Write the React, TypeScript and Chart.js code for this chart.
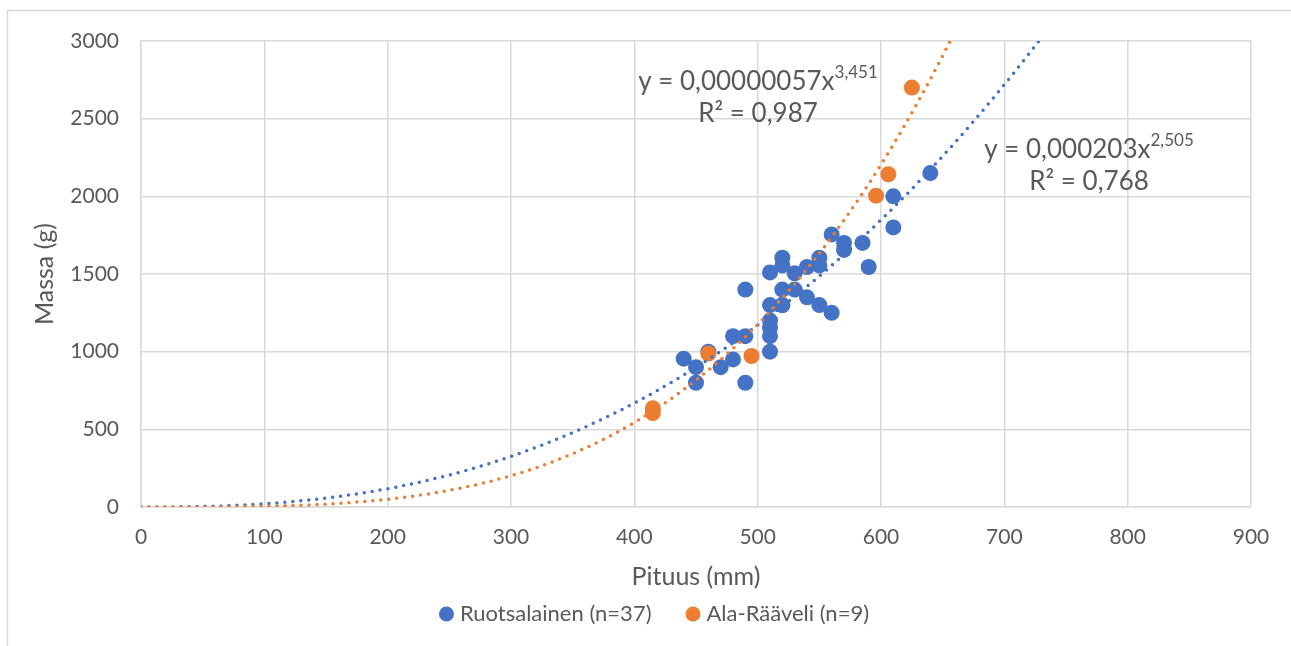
import React, { useEffect, useRef } from "react";
import { Chart, registerables } from "chart.js";
Chart.register(...registerables);

// Ruotsalainen (n=37)
const ruotsX = [440, 450, 450, 460, 470, 480, 480, 490, 490, 490, 510, 510, 510, 510, 510, 510, 520, 520, 520, 520, 530, 530, 540, 540, 550, 550, 550, 560, 560, 570, 570, 585, 590, 610, 610, 640, 520];
const ruotsY = [955, 900, 800, 1000, 900, 1100, 950, 1400, 1100, 800, 1510, 1300, 1200, 1155, 1100, 1000, 1605, 1555, 1400, 1300, 1505, 1400, 1545, 1350, 1605, 1555, 1300, 1755, 1250, 1700, 1655, 1700, 1545, 2000, 1800, 2150, 1300];
// Ala-Rääveli (n=9)
const alaX = [415, 415, 460, 495, 596, 606, 625];
const alaY = [635, 605, 988, 972, 2004, 2142, 2700];

// Trendline (power) parameters as displayed
const ruotsA = 0.000203, ruotsB = 2.505;
const alaA = 0.00000057, alaB = 3.451;
const trendXs = Array.from({ length: 151 }, (_, i) => i * 5);

const xTicks = [0, 100, 200, 300, 400, 500, 600, 700, 800, 900];
const yTicks = [0, 500, 1000, 1500, 2000, 2500, 3000];
const seriesNames = ["Ruotsalainen (n=37)", "Ala-Rääveli (n=9)"];

const BLUE = "#4472C4";
const ORANGE = "#ED7D31";
const TEXT = "#595959";
const GRID = "#D9D9D9";
const FONT = "Lato";

const labelsPlugin = {
  id: "extras",
  beforeDraw(chart: any) {
    const ctx = chart.ctx;
    ctx.save();
    ctx.fillStyle = "#fff";
    ctx.fillRect(0, 0, chart.width, chart.height);
    ctx.strokeStyle = GRID;
    ctx.lineWidth = 1.5;
    ctx.strokeRect(7.5, 10.5, chart.width + 20, chart.height + 20);
    ctx.restore();
  },
  afterDraw(chart: any) {
    const ctx = chart.ctx;
    const drawEq = (cx: number, cy: number, a: string, b: string, r2: string) => {
      ctx.save();
      ctx.fillStyle = TEXT;
      ctx.textBaseline = "alphabetic";
      ctx.font = `26px ${FONT}`;
      const w1 = ctx.measureText(a).width;
      ctx.font = `17px ${FONT}`;
      const w2 = ctx.measureText(b).width;
      const x0 = cx - (w1 + w2) / 2;
      ctx.font = `26px ${FONT}`;
      ctx.fillText(a, x0, cy);
      ctx.font = `17px ${FONT}`;
      ctx.fillText(b, x0 + w1, cy - 12);
      ctx.font = `26px ${FONT}`;
      ctx.textAlign = "center";
      ctx.fillText(r2, cx, cy + 32);
      ctx.restore();
    };
    drawEq(758, 90, "y = 0,00000057x", "3,451", "R² = 0,987");
    drawEq(1089, 158, "y = 0,000203x", "2,505", "R² = 0,768");

    // legend
    ctx.save();
    ctx.font = `22px ${FONT}`;
    ctx.textBaseline = "middle";
    const colors = [BLUE, ORANGE];
    const r = 7.5, gapText = 6, gapItem = 34;
    const widths = seriesNames.map((n) => ctx.measureText(n).width);
    const total = widths.reduce((s, w) => s + 2 * r + gapText + w, 0) + gapItem;
    let x = 654 - total / 2;
    const y = 614;
    seriesNames.forEach((n, i) => {
      ctx.fillStyle = colors[i];
      ctx.beginPath();
      ctx.arc(x + r, y, r, 0, Math.PI * 2);
      ctx.fill();
      ctx.fillStyle = TEXT;
      ctx.fillText(n, x + 2 * r + gapText, y);
      x += 2 * r + gapText + widths[i] + gapItem;
    });
    ctx.restore();
  },
};

export default function App() {
  const ref = useRef<HTMLCanvasElement>(null);
  useEffect(() => {
    document.body.style.margin = "0";
    document.body.style.overflow = "hidden";
    const ruotsTrend = trendXs.map((x) => ({ x, y: ruotsA * Math.pow(x, ruotsB) }));
    const alaTrend = trendXs.map((x) => ({ x, y: alaA * Math.pow(x, alaB) }));
    const chart = new Chart(ref.current!, {
      type: "scatter",
      data: {
        datasets: [
          {
            label: seriesNames[0],
            data: ruotsX.map((x, i) => ({ x, y: ruotsY[i] })),
            backgroundColor: BLUE,
            borderColor: BLUE,
            pointRadius: 8,
            pointBorderWidth: 0,
            order: 3,
          },
          {
            label: seriesNames[1],
            data: alaX.map((x, i) => ({ x, y: alaY[i] })),
            backgroundColor: ORANGE,
            borderColor: ORANGE,
            pointRadius: 8,
            pointBorderWidth: 0,
            order: 2,
          },
          {
            label: "trend1",
            data: ruotsTrend,
            showLine: true,
            borderColor: BLUE,
            borderWidth: 3.5,
            borderDash: [0, 8],
            borderCapStyle: "round",
            pointRadius: 0,
            order: 1,
          } as any,
          {
            label: "trend2",
            data: alaTrend,
            showLine: true,
            borderColor: ORANGE,
            borderWidth: 3.5,
            borderDash: [0, 8],
            borderCapStyle: "round",
            pointRadius: 0,
            order: 0,
          } as any,
        ],
      },
      options: {
        animation: false,
        responsive: false,
        layout: { padding: { left: 0, top: 41, right: 40, bottom: 49 } },
        plugins: {
          tooltip: { enabled: false },
          legend: { display: false },
        },
        scales: {
          x: {
            type: "linear",
            min: 0,
            max: 900,
            afterBuildTicks: (s: any) => { s.ticks = xTicks.map((v) => ({ value: v })); },
            afterFit: (s: any) => { s.height = 90; },
            grid: { color: GRID, lineWidth: 1.5, drawTicks: false },
            border: { color: GRID, width: 1.5 },
            ticks: { color: TEXT, padding: 18, font: { family: FONT, size: 21 }, callback: (v: any) => String(v) },
            title: { display: true, text: "Pituus (mm)", color: TEXT, font: { family: FONT, size: 25 }, padding: { top: 0, bottom: 5 } },
          },
          y: {
            type: "linear",
            min: 0,
            max: 3000,
            afterBuildTicks: (s: any) => { s.ticks = yTicks.map((v) => ({ value: v })); },
            afterFit: (s: any) => { s.width = 141; },
            grid: { color: GRID, lineWidth: 1.5, drawTicks: false },
            border: { color: GRID, width: 1.5 },
            ticks: { color: TEXT, padding: 22, font: { family: FONT, size: 21 }, callback: (v: any) => String(v) },
            title: { display: true, text: "Massa (g)", color: TEXT, font: { family: FONT, size: 25 }, padding: { top: 30, bottom: 0 } },
          },
        },
      },
      plugins: [labelsPlugin],
    });
    return () => chart.destroy();
  }, []);
  return <canvas ref={ref} width={1291} height={646} style={{ display: "block" }} />;
}
